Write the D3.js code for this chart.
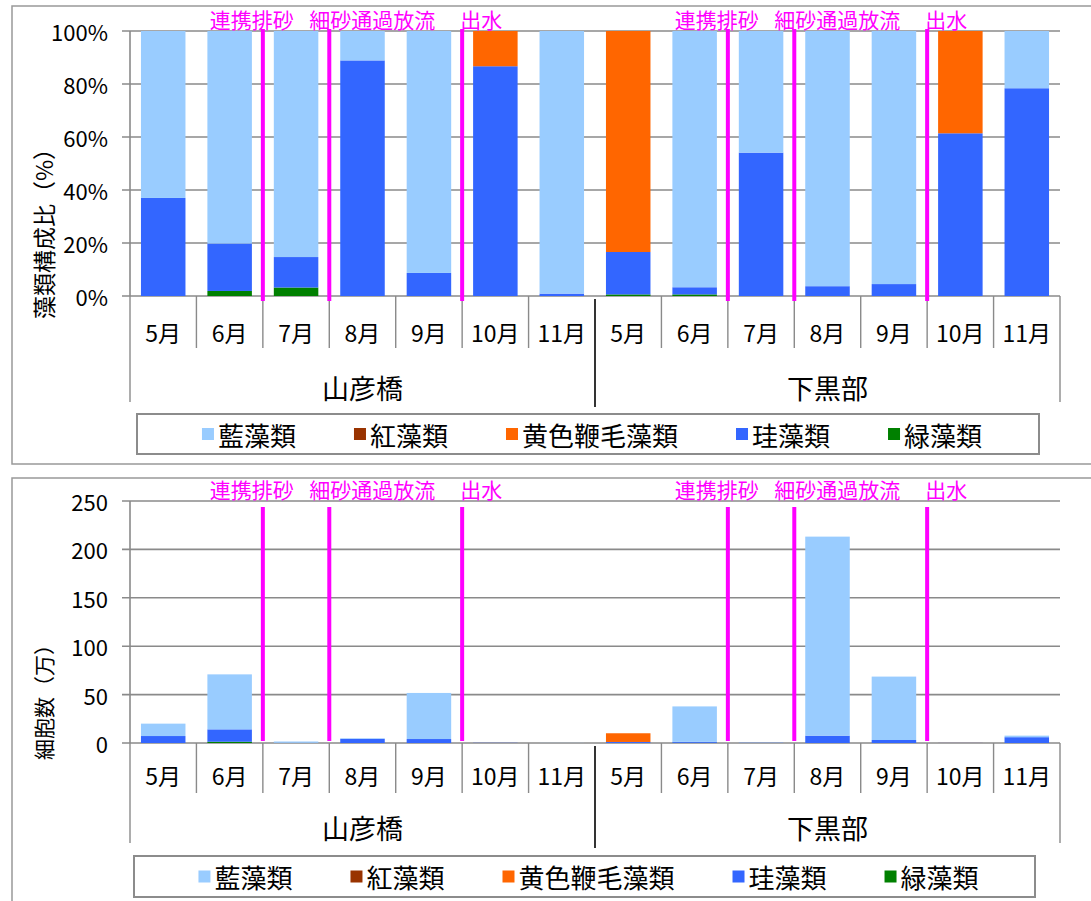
<!DOCTYPE html>
<html>
<head>
<meta charset="utf-8">
<script src="https://cdn.jsdelivr.net/npm/d3@7"></script>
<style>
body { margin: 0; background: #fff; }
svg { display: block; font-family: "Noto Sans CJK JP", "Noto Sans", sans-serif; }
</style>
</head>
<body>
<div id="chart"></div>
<script>
const months = ['5月', '6月', '7月', '8月', '9月', '10月', '11月', '5月', '6月', '7月', '8月', '9月', '10月', '11月'];
const sites = ['山彦橋', '下黒部'];
const seriesNames = ['藍藻類', '紅藻類', '黄色鞭毛藻類', '珪藻類', '緑藻類'];
const seriesColors = ['#99ccff', '#993300', '#ff6600', '#3366ff', '#008000'];
const events = ['連携排砂', '細砂通過放流', '出水'];
const eventIndex = [2, 3, 5]; // event line sits before this month, at each site

// composition (%)
const pctBlueGreen = [63.0, 80.2, 85.3, 11.1, 91.3, 0, 99.1, 0, 96.7, 45.9, 96.3, 95.5, 0, 21.6];
const pctRed = [0, 0, 0, 0, 0, 0, 0, 0, 0, 0, 0, 0, 0, 0];
const pctYellow = [0, 0, 0, 0, 0, 13.3, 0, 83.4, 0, 0, 0, 0, 38.6, 0];
const pctDiatom = [37.0, 17.9, 11.5, 88.9, 8.7, 86.7, 0.9, 16.0, 2.7, 54.1, 3.7, 4.5, 61.4, 78.4];
const pctGreen = [0, 1.9, 3.2, 0, 0, 0, 0, 0.6, 0.6, 0, 0, 0, 0, 0];

// cell counts (万)
const cntBlueGreen = [12.8, 56.8, 1.3, 0.6, 47.6, 0, 0.1, 0, 36.6, 0.15, 205.6, 65.5, 0, 1.6];
const cntRed = [0, 0, 0, 0, 0, 0, 0, 0, 0, 0, 0, 0, 0, 0];
const cntYellow = [0, 0, 0, 0, 0, 0.03, 0, 9.0, 0, 0, 0, 0, 0.06, 0];
const cntDiatom = [7.2, 12.8, 0.2, 4.3, 4.1, 0.2, 0, 1.0, 1.0, 0.2, 7.6, 3.1, 0.1, 6.0];
const cntGreen = [0, 1.3, 0.05, 0, 0, 0, 0, 0.06, 0.2, 0, 0, 0, 0, 0];

const pctTicks = [0, 20, 40, 60, 80, 100];
const cntTicks = [0, 50, 100, 150, 200, 250];

const width = 1091, height = 901;
const svg = d3.select('#chart').append('svg')
    .attr('width', width)
    .attr('height', height);

const x = d3.scaleBand()
    .domain(d3.range(months.length))
    .range([130, 1060])
    .paddingInner(0.33)
    .paddingOuter(0.165);
const step = x.step();
const edge = i => 130 + i * step;

const stackOrder = ['緑藻類', '珪藻類', '黄色鞭毛藻類', '紅藻類', '藍藻類'];
const color = d3.scaleOrdinal().domain(seriesNames).range(seriesColors);
const gridColor = '#8a8a8a';

function drawPanel(cfg) {
  const g = svg.append('g');

  g.append('rect')
      .attr('x', 12).attr('y', cfg.frameY)
      .attr('width', 1100).attr('height', cfg.frameH)
      .attr('fill', 'none').attr('stroke', '#999').attr('stroke-width', 1.5);

  const y = d3.scaleLinear().domain([0, cfg.max]).range([cfg.bottom, cfg.top]);

  // gridlines + tick labels
  g.selectAll('.grid').data(cfg.ticks).enter().append('line')
      .attr('x1', 122).attr('x2', 1060)
      .attr('y1', d => y(d)).attr('y2', d => y(d))
      .attr('stroke', gridColor).attr('stroke-width', 1.6);
  g.selectAll('.tlab').data(cfg.ticks).enter().append('text')
      .attr('x', 108).attr('y', d => y(d))
      .attr('text-anchor', 'end').attr('dominant-baseline', 'central')
      .style('font-size', '22px')
      .text(cfg.fmt);
  g.append('line')
      .attr('x1', 130).attr('x2', 130)
      .attr('y1', cfg.top).attr('y2', cfg.bottom)
      .attr('stroke', gridColor).attr('stroke-width', 1.6);

  // stacked bars
  const table = months.map((m, i) => {
    const row = { i: i };
    seriesNames.forEach((s, k) => { row[s] = cfg.series[k][i]; });
    return row;
  });
  const stacked = d3.stack().keys(stackOrder)(table);
  g.selectAll('.layer').data(stacked).enter().append('g')
      .attr('fill', d => color(d.key))
    .selectAll('rect').data(d => d).enter().append('rect')
      .attr('x', d => x(d.data.i))
      .attr('width', x.bandwidth())
      .attr('y', d => y(d[1]))
      .attr('height', d => Math.max(0, y(d[0]) - y(d[1])));

  // category axis
  d3.range(months.length + 1).forEach(i => {
    const len = (i === 0 || i === months.length) ? cfg.siteTickLen : cfg.tickLen;
    if (i === 7) return;
    g.append('line')
        .attr('x1', edge(i)).attr('x2', edge(i))
        .attr('y1', cfg.bottom).attr('y2', cfg.bottom + len)
        .attr('stroke', gridColor).attr('stroke-width', 1.4);
  });
  g.append('line')
      .attr('x1', edge(7)).attr('x2', edge(7))
      .attr('y1', cfg.bottom + 3).attr('y2', cfg.bottom + cfg.siteTickLen + 5)
      .attr('stroke', '#000').attr('stroke-width', 1.6);

  g.selectAll('.mlab').data(months).enter().append('text')
      .attr('x', (d, i) => x(i) + x.bandwidth() / 2)
      .attr('y', cfg.monthY)
      .attr('text-anchor', 'middle').attr('dominant-baseline', 'central')
      .style('font-size', '23px')
      .text(d => d);
  g.selectAll('.slab').data(sites).enter().append('text')
      .attr('x', (d, s) => (edge(s * 7) + edge(s * 7 + 7)) / 2)
      .attr('y', cfg.siteY)
      .attr('text-anchor', 'middle').attr('dominant-baseline', 'central')
      .style('font-size', '27px')
      .text(d => d);

  // event markers
  const offsets = [-53, -20, -2];
  sites.forEach((s, si) => {
    events.forEach((ev, k) => {
      const ex = edge(si * 7 + eventIndex[k]);
      g.append('line')
          .attr('x1', ex).attr('x2', ex)
          .attr('y1', cfg.lineTop).attr('y2', cfg.lineBottom)
          .attr('stroke', '#ff00ff').attr('stroke-width', 4);
      g.append('text')
          .attr('x', ex + offsets[k]).attr('y', cfg.eventY)
          .attr('fill', '#ff00ff')
          .style('font-size', '21px')
          .text(ev);
    });
  });

  // y title
  g.append('text')
      .attr('transform', 'translate(43,' + cfg.titleY + ') rotate(-90)')
      .attr('text-anchor', 'middle').attr('dominant-baseline', 'central')
      .style('font-size', cfg.titleSize + 'px')
      .text(cfg.yTitle);

  // legend
  const lb = cfg.legend;
  g.append('rect')
      .attr('x', lb.x).attr('y', lb.y).attr('width', lb.w).attr('height', lb.h)
      .attr('fill', '#fff').attr('stroke', '#8c8c8c').attr('stroke-width', 2);
  const items = g.selectAll('.leg').data(seriesNames).enter().append('g');
  items.append('rect')
      .attr('width', 12).attr('height', 12)
      .attr('y', lb.y + lb.h / 2 - 6)
      .attr('fill', d => color(d));
  items.append('text')
      .attr('y', lb.y + lb.h / 2)
      .attr('dominant-baseline', 'central')
      .style('font-size', '26px')
      .text(d => d);
  const widths = items.nodes().map(n => n.querySelector('text').getComputedTextLength());
  const gap = 58;
  const total = d3.sum(widths) + seriesNames.length * 16 + (seriesNames.length - 1) * gap;
  let cx = lb.x + lb.w / 2 - total / 2 + 4;
  items.each(function(d, k) {
    const it = d3.select(this);
    it.select('rect').attr('x', cx);
    it.select('text').attr('x', cx + 16);
    cx += 16 + widths[k] + gap;
  });
}

drawPanel({
  frameY: 6, frameH: 458,
  top: 31, bottom: 296, max: 100,
  ticks: pctTicks, fmt: d => d + '%',
  series: [pctBlueGreen, pctRed, pctYellow, pctDiatom, pctGreen],
  tickLen: 52, siteTickLen: 106,
  monthY: 332, siteY: 387,
  lineTop: 29, lineBottom: 301, eventY: 28,
  yTitle: '藻類構成比（%）', titleY: 228, titleSize: 23,
  legend: { x: 137, y: 414, w: 902, h: 40 }
});

drawPanel({
  frameY: 478, frameH: 440,
  top: 501, bottom: 743, max: 250,
  ticks: cntTicks, fmt: d => d,
  series: [cntBlueGreen, cntRed, cntYellow, cntDiatom, cntGreen],
  tickLen: 50, siteTickLen: 100,
  monthY: 775, siteY: 827,
  lineTop: 507, lineBottom: 741, eventY: 498,
  yTitle: '細胞数（万）', titleY: 697, titleSize: 21,
  legend: { x: 134, y: 856, w: 901, h: 41 }
});
</script>
</body>
</html>
